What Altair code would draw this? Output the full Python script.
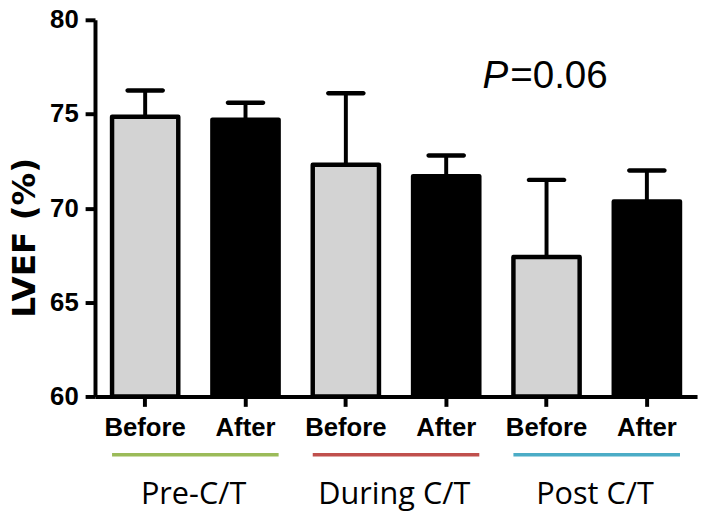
import altair as alt
import pandas as pd

groups = ["Pre-C/T", "During C/T", "Post C/T"]
phases = ["Before", "After"]
means = [74.85, 74.7, 72.3, 71.7, 67.4, 70.35]
sds = [1.4, 0.9, 3.8, 1.1, 4.1, 1.65]
group_colors = ["#9BBB59", "#C0504D", "#4BACC6"]
phase_fills = ["#D3D3D3", "#000000"]
y_ticks = [60, 65, 70, 75, 80]
p_label = "P"
p_value = "=0.06"

keys = [f"{g}|{p}" for g in groups for p in phases]
df = pd.DataFrame({
    "key": keys,
    "group": [g for g in groups for p in phases],
    "phase": [p for g in groups for p in phases],
    "mean": means,
    "upper": [m + s for m, s in zip(means, sds)],
})
gdf = pd.DataFrame({
    "group": groups,
    "start": [f"{g}|Before" for g in groups],
    "end": [f"{g}|After" for g in groups],
    "color": group_colors,
})

xscale = alt.Scale(domain=keys, paddingInner=0.34, paddingOuter=0.17)
yscale = alt.Scale(domain=[60, 80], nice=False, zero=False)

x_axis = alt.Axis(
    title=None, labelExpr="split(datum.value, '|')[1]", labelAngle=0,
    labelFont="Liberation Sans", labelFontWeight="bold", labelFontSize=26,
    labelPadding=9, tickSize=10, tickWidth=4, domainWidth=4,
    labelColor="black", tickColor="black", domainColor="black", grid=False,
)
y_axis = alt.Axis(
    values=y_ticks, title="LVEF (%)", titleFont="DejaVu Sans",
    titleFontWeight="bold", titleFontSize=33, titleX=-61, titleY=220,
    titleAngle=270, titleAlign="center", titleBaseline="alphabetic", titleColor="black",
    labelFont="Liberation Sans", labelFontWeight="bold", labelFontSize=26,
    labelPadding=7, tickSize=10, tickWidth=4, domainWidth=4,
    labelColor="black", tickColor="black", domainColor="black", grid=False,
)

bars = alt.Chart(df).mark_bar(stroke="black", strokeWidth=4.5, strokeJoin="round").encode(
    x=alt.X("key:N", scale=xscale, sort=keys, axis=x_axis),
    y=alt.Y("mean:Q", scale=yscale, axis=y_axis),
    y2=alt.datum(60),
    fill=alt.Fill("phase:N", scale=alt.Scale(domain=phases, range=phase_fills), legend=None),
)

err_line = alt.Chart(df).mark_rule(color="black", strokeWidth=4).encode(
    x=alt.X("key:N", scale=xscale, sort=keys, axis=x_axis),
    y=alt.Y("mean:Q", scale=yscale, axis=y_axis),
    y2="upper:Q",
)
err_cap = alt.Chart(df).mark_tick(
    color="black", thickness=4.5, size=40, cornerRadius=2.25, orient="horizontal", opacity=1
).encode(
    x=alt.X("key:N", scale=xscale, sort=keys, axis=x_axis),
    y=alt.Y("upper:Q", scale=yscale, axis=y_axis),
)

rules = alt.Chart(gdf).mark_rule(strokeWidth=3.5).encode(
    x=alt.X("start:N", scale=xscale, sort=keys, bandPosition=0, axis=x_axis),
    x2=alt.X2("end:N", bandPosition=1),
    y=alt.value(440),
    color=alt.Color("color:N", scale=None),
)

glabels = alt.Chart(gdf).mark_text(
    font="Open Sans", fontSize=31, color="black", baseline="middle", align="center", dx=-19
).encode(
    x=alt.X("end:N", scale=xscale, sort=keys, bandPosition=0, axis=x_axis),
    y=alt.value(481),
    text="group:N",
)

ptext = alt.Chart(pd.DataFrame({"t": [p_label]})).mark_text(
    font="Liberation Sans", fontStyle="italic", fontSize=39, align="right",
    baseline="alphabetic", color="black"
).encode(x=alt.value(418), y=alt.value(69), text="t:N")

pval = alt.Chart(pd.DataFrame({"t": [p_value]})).mark_text(
    font="Liberation Sans", fontSize=39, align="left",
    baseline="alphabetic", color="black"
).encode(x=alt.value(420), y=alt.value(69), text="t:N")

chart = alt.layer(bars, err_line, err_cap, rules, glabels, ptext, pval).properties(
    width=609, height=381,
    padding={"left": 88, "top": 9, "right": 4, "bottom": 120},
    autosize=alt.AutoSizeParams(type="none"),
    background="white",
).configure_view(stroke=None)

chart.save("out.html", embed_options={"renderer": "svg", "actions": False})
